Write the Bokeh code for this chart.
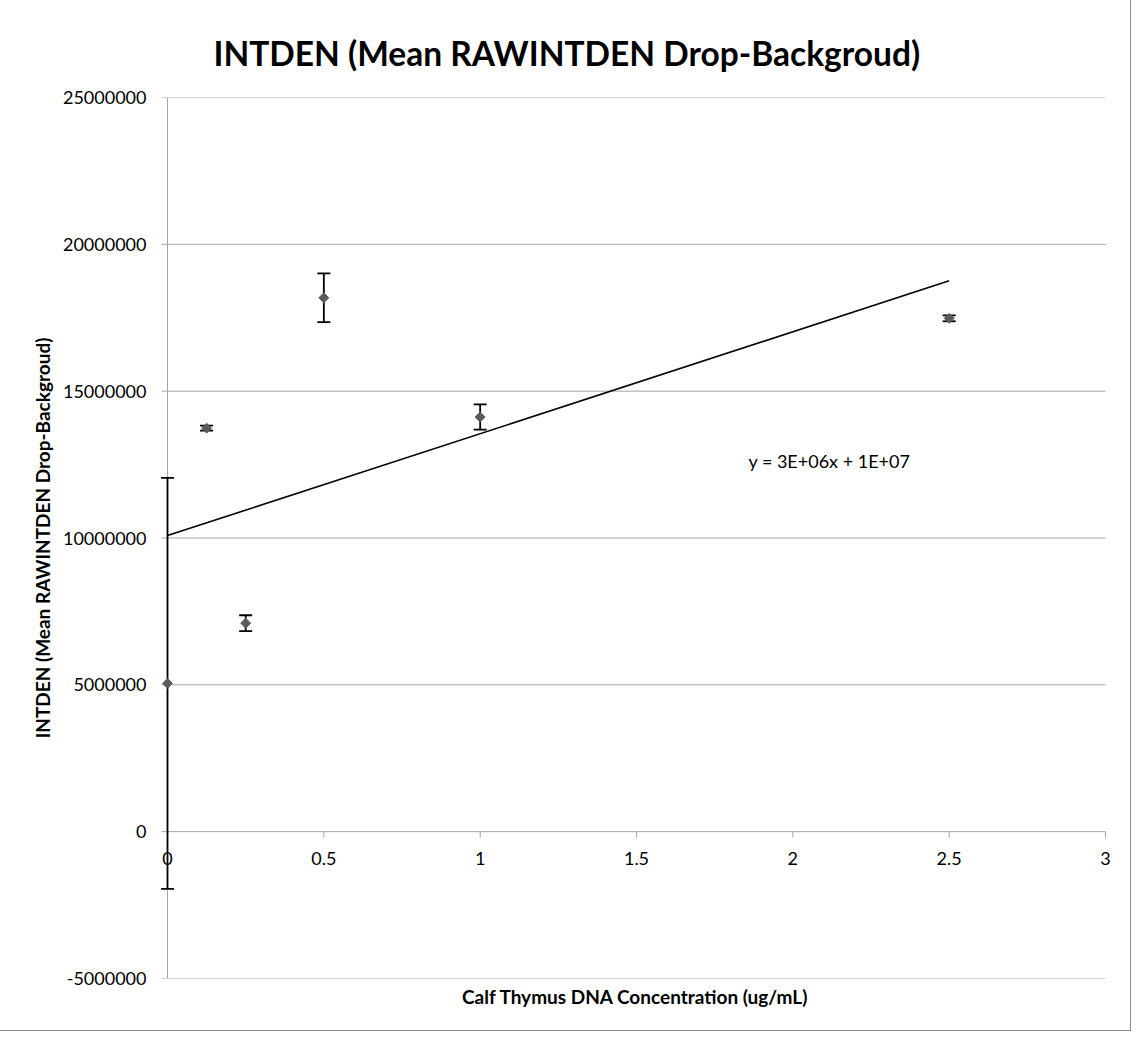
import numpy as np
from bokeh.plotting import figure
from bokeh.models import FixedTicker, Whisker, TeeHead, ColumnDataSource
from bokeh.core.properties import value
from bokeh.embed import file_html
from bokeh.resources import INLINE

# ---- data ----
conc = [0.0, 0.125, 0.25, 0.5, 1.0, 2.5]
intden = [5050000, 13740000, 7100000, 18180000, 14120000, 17480000]
err = [7000000, 85000, 270000, 830000, 430000, 100000]

y_ticks = [-5000000, 0, 5000000, 10000000, 15000000, 20000000, 25000000]
y_tick_labels = ["-5000000", "0", "5000000", "10000000", "15000000", "20000000", "25000000"]
x_ticks = [0, 0.5, 1, 1.5, 2, 2.5, 3]
x_tick_labels = ["0", "0.5", "1", "1.5", "2", "2.5", "3"]

title_text = "INTDEN (Mean RAWINTDEN Drop-Backgroud)"
x_label = "Calf Thymus DNA Concentration (ug/mL)"
y_label = "INTDEN (Mean RAWINTDEN Drop-Backgroud)"
eq_text = ["y = 3E+06x + 1E+07"]
eq_pos_x = [1.858]
eq_pos_y = [12610000]

FONT = "Lato"
GRID = "#a6a6a6"

# ---- layout ----
W, H = 1130, 1030
PLOT_L, PLOT_R = 167, 1105          # pixel positions of x = 0 and x = 3
PAD_L, PAD_R = 12, 10               # extra frame room so marks at the edges are not clipped
ML = PLOT_L - PAD_L
MR = W - (PLOT_R + PAD_R)
MT, MB = 97, 52
x_lo, x_hi = 0, 3
y_lo, y_hi = -5000000, 25000000

xpx = (PLOT_R - PLOT_L) / (x_hi - x_lo)     # pixels per x unit
frame_h = H - MT - MB
ypx = frame_h / (y_hi - y_lo)               # pixels per y unit

p = figure(width=W, height=H,
           x_range=(x_lo - PAD_L / xpx, x_hi + PAD_R / xpx), y_range=(y_lo, y_hi),
           output_backend="svg", toolbar_location=None,
           min_border_left=ML, min_border_right=MR, min_border_top=MT, min_border_bottom=MB)
p.background_fill_color = "white"
p.border_fill_color = "white"
p.outline_line_color = None
p.styles = {"outline": "1px solid #8c8c8c"}

# title
p.title.text = title_text
p.title.text_font = FONT
p.title.text_font_style = "bold"
p.title.text_font_size = "33.5px"
p.title.text_color = "black"
p.title.align = "left"
p.title.offset = 213 - ML
p.title.standoff = 49

# y axis: labels from the axis, line and ticks drawn at x = 0
p.yaxis.ticker = FixedTicker(ticks=y_ticks)
p.yaxis.major_label_overrides = {t: l for t, l in zip(y_ticks, y_tick_labels)}
p.yaxis.axis_line_color = None
p.yaxis.major_tick_line_color = None
p.yaxis.minor_tick_line_color = None
p.yaxis.major_tick_out = 0
p.yaxis.major_tick_in = 0
p.yaxis.major_label_standoff = 9
p.yaxis.major_label_text_font = FONT
p.yaxis.major_label_text_font_size = "18px"
p.yaxis.major_label_text_color = "black"
p.yaxis.axis_label = y_label
p.yaxis.axis_label_text_font = FONT
p.yaxis.axis_label_text_font_style = "bold"
p.yaxis.axis_label_text_font_size = "19px"
p.yaxis.axis_label_text_color = "black"
p.yaxis.axis_label_standoff = 6

# x axis (bottom) only carries the title; the axis itself is drawn at y = 0
p.xaxis.ticker = FixedTicker(ticks=[])
p.xaxis.axis_line_color = None
p.xaxis.major_tick_line_color = None
p.xaxis.minor_tick_line_color = None
p.xaxis.major_tick_out = 0
p.xaxis.axis_label = x_label
p.xaxis.axis_label_text_font = FONT
p.xaxis.axis_label_text_font_style = "bold"
p.xaxis.axis_label_text_font_size = "19px"
p.xaxis.axis_label_text_color = "black"
p.xaxis.axis_label_standoff = 6

p.xgrid.visible = False
p.ygrid.visible = False

n_y = len(y_ticks)
n_x = len(x_ticks)
tick_x = 6 / xpx
tick_y = 6 / ypx
label_gap = 27 / ypx

# horizontal gridlines (from x = 0 to x = 3) with outward ticks on the y axis
p.segment(x0=[x_lo - tick_x] * n_y, y0=y_ticks, x1=[x_hi] * n_y, y1=y_ticks,
          line_color=GRID, line_width=1)
# y axis line at x = 0
p.segment(x0=[x_lo], y0=[y_lo], x1=[x_lo], y1=[y_hi], line_color=GRID, line_width=1)
# x axis ticks below y = 0
p.segment(x0=x_ticks, y0=[0] * n_x, x1=x_ticks, y1=[-tick_y] * n_x,
          line_color=GRID, line_width=1)
p.text(x=x_ticks, y=[-label_gap] * n_x, text=x_tick_labels,
       text_font=value(FONT), text_font_size="18px", text_align="center",
       text_baseline="middle", text_color="black")

# trend line (least squares, as in the original)
slope, icpt = np.polyfit(conc, intden, 1)
tx = [min(conc), max(conc)]
p.line(tx, [slope * v + icpt for v in tx], line_color="black", line_width=1.6)

# error bars, drawn above the axis lines
src = ColumnDataSource(dict(x=conc, y=intden,
                            upper=[a + b for a, b in zip(intden, err)],
                            lower=[a - b for a, b in zip(intden, err)]))
w = Whisker(source=src, base="x", upper="upper", lower="lower", dimension="height",
            line_color="black", line_width=1.8, level="annotation",
            upper_head=TeeHead(size=13, line_color="black", line_width=1.8),
            lower_head=TeeHead(size=13, line_color="black", line_width=1.8))
p.add_layout(w)

pts = p.scatter("x", "y", source=src, marker="square", angle=np.pi / 4, size=7,
                fill_color="#5a5a5a", line_color="#5a5a5a")
pts.level = "overlay"

p.text(x=eq_pos_x, y=eq_pos_y, text=eq_text, text_font=value(FONT), text_font_size="18px",
       text_align="left", text_baseline="middle", text_color="black")

open("out.html", "w").write(file_html(p, INLINE))
